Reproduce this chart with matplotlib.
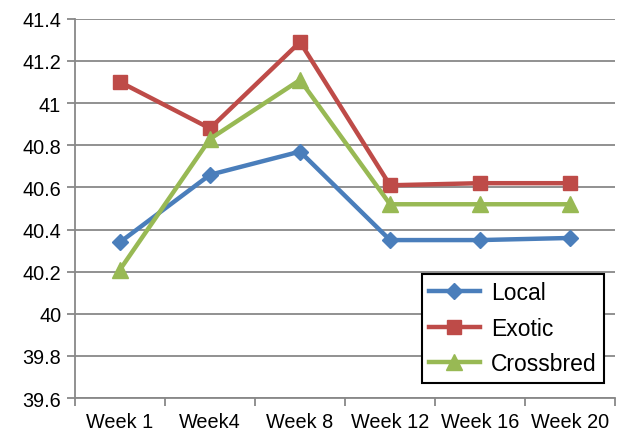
import matplotlib.pyplot as plt
import numpy as np

plt.rcParams['font.family'] = ['Liberation Sans', 'DejaVu Sans']

weeks = ["Week 1", "Week4", "Week 8", "Week 12", "Week 16", "Week 20"]
local = [40.34, 40.66, 40.77, 40.35, 40.35, 40.36]
exotic = [41.10, 40.88, 41.29, 40.61, 40.62, 40.62]
crossbred = [40.21, 40.83, 41.11, 40.52, 40.52, 40.52]

x = np.arange(len(weeks))

fig = plt.figure(figsize=(6.2, 4.31), dpi=100)
ax = fig.add_axes([0.121, 0.074, 0.871, 0.88])

ax.plot(x, local, color="#4A7EBB", lw=3.2, marker="D", ms=8.5, label="Local")
ax.plot(x, exotic, color="#BE4B48", lw=3.2, marker="s", ms=10, label="Exotic")
ax.plot(x, crossbred, color="#98B954", lw=3.2, marker="^", ms=11, label="Crossbred")

ax.set_xlim(-0.5, len(weeks) - 0.5)
ax.set_ylim(39.6, 41.4)
yt = np.arange(39.6, 41.41, 0.2)
ax.set_yticks(yt)
ax.set_yticklabels([f"{v:g}" for v in np.round(yt, 1)])
ax.yaxis.grid(True, color="#888888", lw=1.3)
ax.set_axisbelow(True)

ax.set_xticks(x)
ax.set_xticklabels(weeks)
ax.set_xticks(np.arange(-0.5, len(weeks)), minor=True)
ax.tick_params(axis="x", which="major", length=0, pad=10, labelsize=14.3)
ax.tick_params(axis="x", which="minor", length=6, color="#888888", width=1.3)
ax.tick_params(axis="y", length=6, color="#888888", width=1.3, labelsize=14.3, pad=4)

for s in ["top", "right"]:
    ax.spines[s].set_visible(False)
for s in ["left", "bottom"]:
    ax.spines[s].set_color("#888888")
    ax.spines[s].set_linewidth(1.3)

leg = ax.legend(loc="lower right", bbox_to_anchor=(0.98, 0.04), borderaxespad=0,
                fontsize=16.5, fancybox=False, framealpha=1, edgecolor="black",
                handlelength=2.2, handletextpad=0.5, labelspacing=0.55,
                borderpad=0.33)
leg.get_frame().set_linewidth(1.5)

fig.savefig("out.png", dpi=100)
